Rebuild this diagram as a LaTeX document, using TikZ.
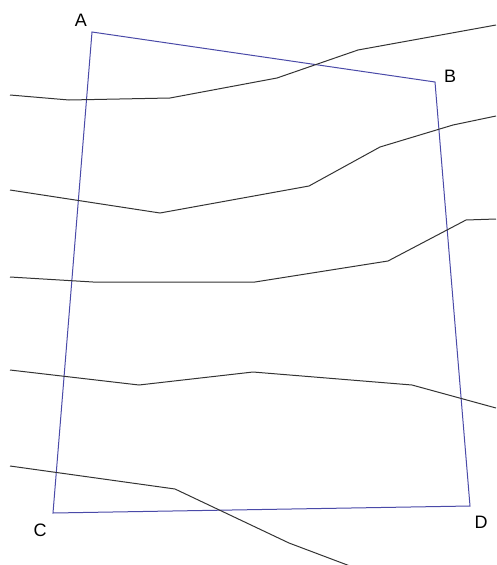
\documentclass[tikz,border=0pt]{standalone}
\usepackage{fontspec}
\setmainfont{Liberation Sans}
\definecolor{plotBlue}{HTML}{4A4AA8}
\definecolor{plotInk}{HTML}{333333}
\tikzset{
  plot frame/.style={draw=plotBlue, line width=1pt, line join=miter},
  plot contour/.style={draw=plotInk, line width=1pt},
  plot label/.style={font=\fontsize{18pt}{20pt}\selectfont, text=black, inner sep=0pt},
}
\begin{document}
\begin{tikzpicture}[x=1pt,y=-1pt]
\useasboundingbox (0,0) rectangle (496,565);
\coordinate (A) at (92,32);\coordinate (B) at (435,82);
\coordinate (C) at (53,513);\coordinate (D) at (470,506);
\draw[plot frame] (A) -- (B) -- (D) -- (C) -- cycle;
\node[plot label](labA) at (81,20){A};\node[plot label](labB) at (450,76){B};
\node[plot label](labC) at (40,530){C};\node[plot label](labD) at (481,522){D};
\draw[plot contour] (10,95) -- (69,100) -- (170,98) -- (277,78) -- (358,50) -- (496,25);
\draw[plot contour] (10,190) -- (160,213) -- (309,186) -- (380,147) -- (453,125) -- (496,116);
\draw[plot contour] (10,277) -- (93,282) -- (255,282) -- (388,261) -- (466,220) -- (496,219);
\draw[plot contour] (10,370) -- (139,385) -- (253,372) -- (412,385) -- (496,408);
\draw[plot contour] (10,466) -- (175,489) -- (289,543) -- (350,566);
\end{tikzpicture}
\end{document}
